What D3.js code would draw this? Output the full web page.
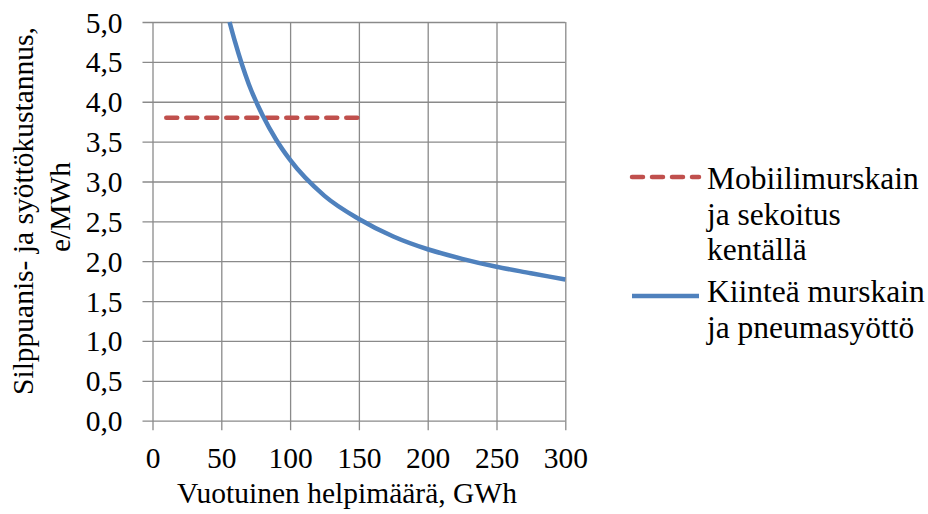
<!DOCTYPE html>
<html>
<head>
<meta charset="utf-8">
<script src="https://d3js.org/d3.v7.min.js"></script>
<style>
  body { margin: 0; background: #fff; }
</style>
</head>
<body>
<div id="my_dataviz"></div>
<script>
    // data
    var xTicks = [0, 50, 100, 150, 200, 250, 300];
    var yTicks = [0, 0.5, 1, 1.5, 2, 2.5, 3, 3.5, 4, 4.5, 5];

    // Mobiilimurskain ja sekoitus kentällä (flat cost)
    var mobileX = [10, 150];
    var mobileY = [3.8, 3.8];

    // Kiinteä murskain ja pneumasyöttö
    var fixedX = [56, 60, 70, 80, 90, 100, 125, 150, 175, 200, 225, 250, 275, 300];
    var fixedY = [5.0, 4.75, 4.22, 3.83, 3.52, 3.27, 2.82, 2.53, 2.31, 2.15, 2.03, 1.93, 1.85, 1.77];

    var legendLabels = [
      ["Mobiilimurskain", "ja sekoitus", "kentällä"],
      ["Kiinteä murskain", "ja pneumasyöttö"]
    ];

    var W = 928, H = 514;
    var plot = {left: 152.5, right: 565.3, top: 22, bottom: 420.7};
    var serif = "'Liberation Serif', 'Times New Roman', serif";

    var svg = d3.select("#my_dataviz")
      .append("svg")
        .attr("width", W)
        .attr("height", H)
        .attr("font-family", serif);

    var x = d3.scaleLinear().domain([0, 300]).range([plot.left, plot.right]);
    var y = d3.scaleLinear().domain([0, 5]).range([plot.bottom, plot.top]);

    var fi = d3.formatLocale({decimal: ",", thousands: " ", grouping: [3], currency: ["", "€"]});
    var fmtY = fi.format(".1f");

    var gridColor = "#8a8a8a";

    // horizontal gridlines + y labels
    var yAxis = svg.append("g")
      .attr("transform", "translate(" + plot.right + ",0)")
      .call(d3.axisLeft(y).tickValues(yTicks).tickFormat(fmtY)
        .tickSizeInner(plot.right - plot.left + 10).tickSizeOuter(0).tickPadding(20));
    yAxis.select(".domain").remove();
    yAxis.attr("font-family", serif);
    yAxis.selectAll("line").attr("stroke", gridColor).attr("stroke-width", 1.3);
    yAxis.selectAll("text")
      .attr("font-size", 29.5)
      .attr("fill", "#000")
      .attr("dy", "0.34em");

    // vertical gridlines + x labels
    var xAxis = svg.append("g")
      .attr("transform", "translate(0," + plot.top + ")")
      .call(d3.axisBottom(x).tickValues(xTicks)
        .tickSizeInner(plot.bottom - plot.top + 9.5).tickSizeOuter(0).tickPadding(17));
    xAxis.select(".domain").remove();
    xAxis.attr("font-family", serif);
    xAxis.selectAll("line").attr("stroke", gridColor).attr("stroke-width", 1.3);
    xAxis.selectAll("text")
      .attr("font-size", 29.5)
      .attr("fill", "#000");

    // clip to plot area
    svg.append("clipPath").attr("id", "clip")
      .append("rect")
        .attr("x", plot.left).attr("y", plot.top - 3)
        .attr("width", plot.right - plot.left + 3).attr("height", plot.bottom - plot.top + 3);

    var line = d3.line()
      .x(function(d) { return x(d[0]); })
      .y(function(d) { return y(d[1]); });

    svg.append("path")
      .datum(mobileX.map(function(v, i) { return [v, mobileY[i]]; }))
      .attr("d", line)
      .attr("fill", "none")
      .attr("stroke", "#c0504d")
      .attr("stroke-width", 4.5)
      .attr("stroke-linecap", "round")
      .attr("stroke-dasharray", "11,9");

    svg.append("path")
      .datum(fixedX.map(function(v, i) { return [v, fixedY[i]]; }))
      .attr("d", line.curve(d3.curveMonotoneX))
      .attr("fill", "none")
      .attr("stroke", "#4f81bd")
      .attr("stroke-width", 4.5)
      .attr("clip-path", "url(#clip)");

    // axis titles
    svg.append("text")
      .attr("x", 347)
      .attr("y", 503)
      .attr("text-anchor", "middle")
      .attr("font-family", serif)
      .attr("font-size", 29.5)
      .text("Vuotuinen helpimäärä, GWh");

    var yTitle = svg.append("g").attr("transform", "rotate(-90)");
    yTitle.append("text")
      .attr("x", -211).attr("y", 33)
      .attr("text-anchor", "middle")
      .attr("font-family", serif)
      .attr("font-size", 29.5)
      .text("Silppuanis- ja syöttökustannus,");
    yTitle.append("text")
      .attr("x", -207).attr("y", 70)
      .attr("text-anchor", "middle")
      .attr("font-family", serif)
      .attr("font-size", 29.5)
      .text("e/MWh");

    // legend
    var legend = [
      {color: "#c0504d", dash: "11,9", sy: 177, ty: 189},
      {color: "#4f81bd", dash: null, sy: 296, ty: 302}
    ];
    legend.forEach(function(l, i) {
      svg.append("line")
        .attr("x1", 632).attr("x2", 699)
        .attr("y1", l.sy).attr("y2", l.sy)
        .attr("stroke", l.color)
        .attr("stroke-width", 4.5)
        .attr("stroke-linecap", l.dash ? "round" : "butt")
        .attr("stroke-dasharray", l.dash);
      var t = svg.append("text")
        .attr("x", 707)
        .attr("y", l.ty)
        .attr("font-family", serif)
        .attr("font-size", 31.5);
      legendLabels[i].forEach(function(s, j) {
        t.append("tspan").attr("x", 707).attr("dy", j === 0 ? 0 : 35.5).text(s);
      });
    });
</script>
</body>
</html>
